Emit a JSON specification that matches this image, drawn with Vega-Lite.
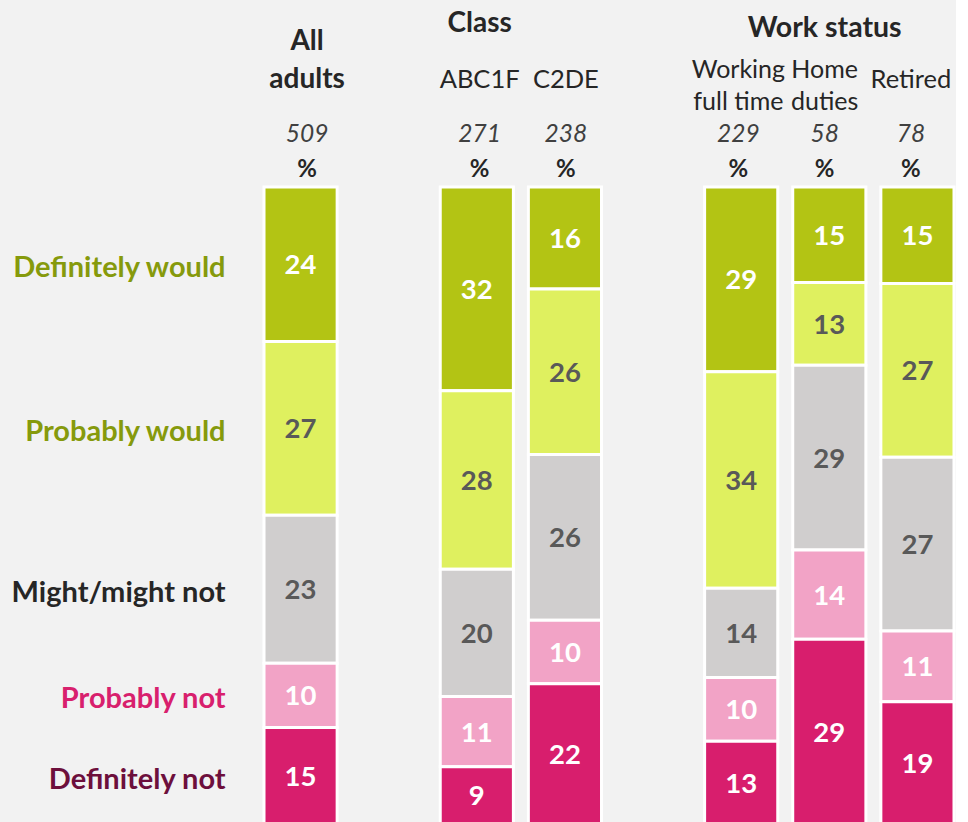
{
  "$schema": "https://vega.github.io/schema/vega-lite/v6.json",
  "padding": {"left": 11, "top": 0, "right": 0, "bottom": 0},
  "background": "#f2f2f2",
  "spacing": 0,
  "config": {"view": {"stroke": null}, "font": "Lato", "text": {"font": "Lato"}},
  "datasets": {
    "bars": [
      {"col": "All adults", "resp": "Definitely would", "code": 5, "v": 24},
      {"col": "All adults", "resp": "Probably would", "code": 4, "v": 27},
      {"col": "All adults", "resp": "Might/might not", "code": 3, "v": 23},
      {"col": "All adults", "resp": "Probably not", "code": 2, "v": 10},
      {"col": "All adults", "resp": "Definitely not", "code": 1, "v": 15},
      {"col": "ABC1F", "resp": "Definitely would", "code": 5, "v": 32},
      {"col": "ABC1F", "resp": "Probably would", "code": 4, "v": 28},
      {"col": "ABC1F", "resp": "Might/might not", "code": 3, "v": 20},
      {"col": "ABC1F", "resp": "Probably not", "code": 2, "v": 11},
      {"col": "ABC1F", "resp": "Definitely not", "code": 1, "v": 9},
      {"col": "C2DE", "resp": "Definitely would", "code": 5, "v": 16},
      {"col": "C2DE", "resp": "Probably would", "code": 4, "v": 26},
      {"col": "C2DE", "resp": "Might/might not", "code": 3, "v": 26},
      {"col": "C2DE", "resp": "Probably not", "code": 2, "v": 10},
      {"col": "C2DE", "resp": "Definitely not", "code": 1, "v": 22},
      {"col": "Working full time", "resp": "Definitely would", "code": 5, "v": 29},
      {"col": "Working full time", "resp": "Probably would", "code": 4, "v": 34},
      {"col": "Working full time", "resp": "Might/might not", "code": 3, "v": 14},
      {"col": "Working full time", "resp": "Probably not", "code": 2, "v": 10},
      {"col": "Working full time", "resp": "Definitely not", "code": 1, "v": 13},
      {"col": "Home duties", "resp": "Definitely would", "code": 5, "v": 15},
      {"col": "Home duties", "resp": "Probably would", "code": 4, "v": 13},
      {"col": "Home duties", "resp": "Might/might not", "code": 3, "v": 29},
      {"col": "Home duties", "resp": "Probably not", "code": 2, "v": 14},
      {"col": "Home duties", "resp": "Definitely not", "code": 1, "v": 29},
      {"col": "Retired", "resp": "Definitely would", "code": 5, "v": 15},
      {"col": "Retired", "resp": "Probably would", "code": 4, "v": 27},
      {"col": "Retired", "resp": "Might/might not", "code": 3, "v": 27},
      {"col": "Retired", "resp": "Probably not", "code": 2, "v": 11},
      {"col": "Retired", "resp": "Definitely not", "code": 1, "v": 19}
    ],
    "headers": [
      {"col": "All adults", "label": "All\nadults", "n": "509"},
      {"col": "ABC1F", "label": "ABC1F", "n": "271"},
      {"col": "C2DE", "label": "C2DE", "n": "238"},
      {"col": "Working full time", "label": "Working\nfull time", "n": "229"},
      {"col": "Home duties", "label": "Home\nduties", "n": "58"},
      {"col": "Retired", "label": "Retired", "n": "78"}
    ]
  },
  "vconcat": [
    {
      "width": 690,
      "height": 185,
      "data": {"name": "headers"},
      "encoding": {
        "x": {
          "field": "col", "type": "nominal",
          "scale": {"domain": ["All adults", "gap1", "ABC1F", "C2DE", "gap2", "Working full time", "Home duties", "Retired"], "paddingInner": 0.17, "paddingOuter": 0},
          "axis": null
        }
      },
      "layer": [
        {
          "transform": [{"filter": "datum.col === 'All adults'"}],
          "mark": {"type": "text", "fontSize": 28, "fontWeight": "bold", "color": "#262626", "lineBreak": "\n", "lineHeight": 38, "baseline": "middle", "dy": 18},
          "encoding": {
            "y": {"datum": "group", "type": "ordinal", "scale": {"type": "point", "domain": ["group", "g2", "label", "l2", "n", "pct"], "padding": 0.8636}, "axis": null},
            "text": {"field": "label"}
          }
        },
        {
          "transform": [{"filter": "datum.col !== 'All adults' && indexof(datum.label, '\\n') >= 0"}],
          "mark": {"type": "text", "fontSize": 25, "color": "#262626", "lineBreak": "\n", "lineHeight": 32, "baseline": "middle", "dy": -9},
          "encoding": {
            "y": {"datum": "label", "type": "ordinal", "scale": {"type": "point", "domain": ["group", "g2", "label", "l2", "n", "pct"], "padding": 0.8636}, "axis": null},
            "text": {"field": "label"}
          }
        },
        {
          "transform": [{"filter": "datum.col !== 'All adults' && indexof(datum.label, '\\n') < 0"}],
          "mark": {"type": "text", "fontSize": 25.5, "color": "#262626", "baseline": "middle", "dy": 1},
          "encoding": {
            "y": {"datum": "label", "type": "ordinal", "scale": {"type": "point", "domain": ["group", "g2", "label", "l2", "n", "pct"], "padding": 0.8636}, "axis": null},
            "text": {"field": "label"}
          }
        },
        {
          "mark": {"type": "text", "fontSize": 24.5, "fontStyle": "italic", "color": "#404040", "baseline": "middle", "dy": 1},
          "encoding": {
            "y": {"datum": "n", "type": "ordinal", "scale": {"type": "point", "domain": ["group", "g2", "label", "l2", "n", "pct"], "padding": 0.8636}, "axis": null},
            "text": {"field": "n"}
          }
        },
        {
          "mark": {"type": "text", "fontSize": 24, "fontWeight": "bold", "color": "#262626", "baseline": "middle", "dy": 9},
          "encoding": {
            "y": {"datum": "pct", "type": "ordinal", "scale": {"type": "point", "domain": ["group", "g2", "label", "l2", "n", "pct"], "padding": 0.8636}, "axis": null},
            "text": {"value": "%"}
          }
        },
        {
          "data": {"values": [{"col": "ABC1F", "title": "Class"}]},
          "mark": {"type": "text", "fontSize": 28, "fontWeight": "bold", "color": "#262626", "baseline": "middle"},
          "encoding": {
            "x": {"field": "col", "type": "nominal", "bandPosition": 0.9},
            "y": {"datum": "group", "type": "ordinal", "scale": {"type": "point", "domain": ["group", "g2", "label", "l2", "n", "pct"], "padding": 0.8636}, "axis": null},
            "text": {"field": "title"}
          }
        },
        {
          "data": {"values": [{"col": "Home duties", "title": "Work status"}]},
          "mark": {"type": "text", "fontSize": 28.5, "fontWeight": "bold", "color": "#262626", "baseline": "middle", "dy": 4},
          "encoding": {
            "x": {"field": "col", "type": "nominal", "bandPosition": 0.28},
            "y": {"datum": "group", "type": "ordinal", "scale": {"type": "point", "domain": ["group", "g2", "label", "l2", "n", "pct"], "padding": 0.8636}, "axis": null},
            "text": {"field": "title"}
          }
        }
      ]
    },
    {
      "width": 690,
      "height": 637,
      "data": {"name": "bars"},
      "encoding": {
        "x": {
          "field": "col", "type": "nominal",
          "scale": {"domain": ["All adults", "gap1", "ABC1F", "C2DE", "gap2", "Working full time", "Home duties", "Retired"], "paddingInner": 0.17, "paddingOuter": 0},
          "axis": null
        },
        "order": {"field": "code", "type": "quantitative", "sort": "ascending"}
      },
      "layer": [
        {
          "mark": {"type": "bar", "stroke": "white", "strokeWidth": 3},
          "encoding": {
            "y": {"field": "v", "type": "quantitative", "stack": "normalize", "axis": null},
            "color": {
              "field": "resp", "type": "nominal",
              "scale": {"domain": ["Definitely would", "Probably would", "Might/might not", "Probably not", "Definitely not"], "range": ["#b3c414", "#dff05f", "#d0cece", "#f2a3c6", "#d81e6d"]},
              "legend": null
            }
          }
        },
        {
          "mark": {"type": "text", "fontSize": 27.5, "fontWeight": "bold", "baseline": "middle", "dy": 2},
          "encoding": {
            "y": {"field": "v", "type": "quantitative", "stack": "normalize", "bandPosition": 0.5, "axis": null},
            "detail": {"field": "resp"},
            "text": {"field": "v", "type": "quantitative"},
            "color": {"condition": {"test": "datum.resp === 'Probably would' || datum.resp === 'Might/might not'", "value": "#595959"}, "value": "white"}
          }
        },
        {
          "transform": [{"filter": "datum.col === 'All adults'"}],
          "mark": {"type": "text", "fontSize": 29, "fontWeight": "bold", "baseline": "middle", "align": "right", "dx": -75, "dy": 4},
          "encoding": {
            "y": {"field": "v", "type": "quantitative", "stack": "normalize", "bandPosition": 0.5, "axis": null},
            "text": {"field": "resp"},
            "color": {
              "field": "resp", "type": "nominal",
              "scale": {"domain": ["Definitely would", "Probably would", "Might/might not", "Probably not", "Definitely not"], "range": ["#869a0c", "#869a0c", "#262626", "#d8206d", "#6d0f3c"]},
              "legend": null
            }
          }
        }
      ],
      "resolve": {"scale": {"color": "independent"}}
    }
  ]
}
